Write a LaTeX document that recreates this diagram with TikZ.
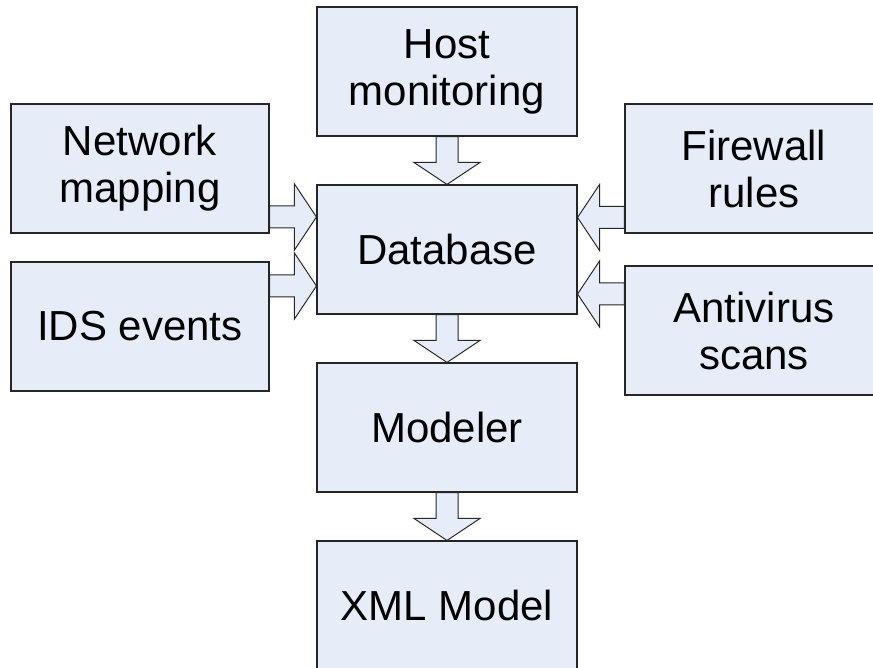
\documentclass[tikz,border=0pt]{standalone}
\usepackage{fontspec}
\setmainfont{Liberation Sans}
\usetikzlibrary{calc,backgrounds}
\definecolor{boxfill}{RGB}{231,237,248}
\definecolor{boxline}{RGB}{38,38,38}
\tikzset{
  blk/.style={draw=boxline, fill=boxfill, line width=1.1pt, inner sep=0pt,
    minimum width=260pt, minimum height=129pt, align=center,
    font=\fontsize{42}{47}\selectfont},
  side/.style={blk, minimum width=258pt},
  barrow/.style={draw=boxline, fill=boxfill, line width=1pt, line join=miter}
}
\newcommand\blockarrow[2]{%
  \draw[barrow] let \p1=(#1), \p2=(#2),
    \n1={atan2(\y2-\y1,\x2-\x1)}, \n2={veclen(\x2-\x1,\y2-\y1)} in
    [shift={(\p1)}, rotate=\n1]
    (0pt,-11pt) -- ({(\n2-22)*1pt},-11pt) -- ({(\n2-22)*1pt},-33pt)
    -- ({\n2*1pt},0pt) -- ({(\n2-22)*1pt},33pt) -- ({(\n2-22)*1pt},11pt)
    -- (0pt,11pt) -- cycle;}
\begin{document}
\begin{tikzpicture}[x=1pt,y=-1pt]
\useasboundingbox (0,0) rectangle (873,668);
\node[blk]  (host) at (447,71.5)  {Host\\monitoring};
\node[side] (net)  at (140,168.5) {Network\\mapping};
\node[side] (fw)   at (754,168.5) {Firewall\\rules};
\node[blk]  (db)   at (447,249.5) {Database};
\node[side] (ids)  at (140,326.5) {IDS events};
\node[side] (av)   at (754,330.5) {Antivirus\\scans};
\node[blk]  (mod)  at (447,427.5) {Modeler};
\node[blk]  (xml)  at (447,605.5) {XML Model};
\begin{scope}[on background layer]
  \blockarrow{host.south}{db.north}
  \blockarrow{net.east |- 0,217}{db.west |- 0,217}
  \blockarrow{ids.east |- 0,286}{db.west |- 0,286}
  \blockarrow{fw.west |- 0,217.5}{db.east |- 0,217.5}
  \blockarrow{av.west |- 0,294}{db.east |- 0,294}
  \blockarrow{db.south}{mod.north}
  \blockarrow{mod.south}{xml.north}
\end{scope}
\end{tikzpicture}
\end{document}
